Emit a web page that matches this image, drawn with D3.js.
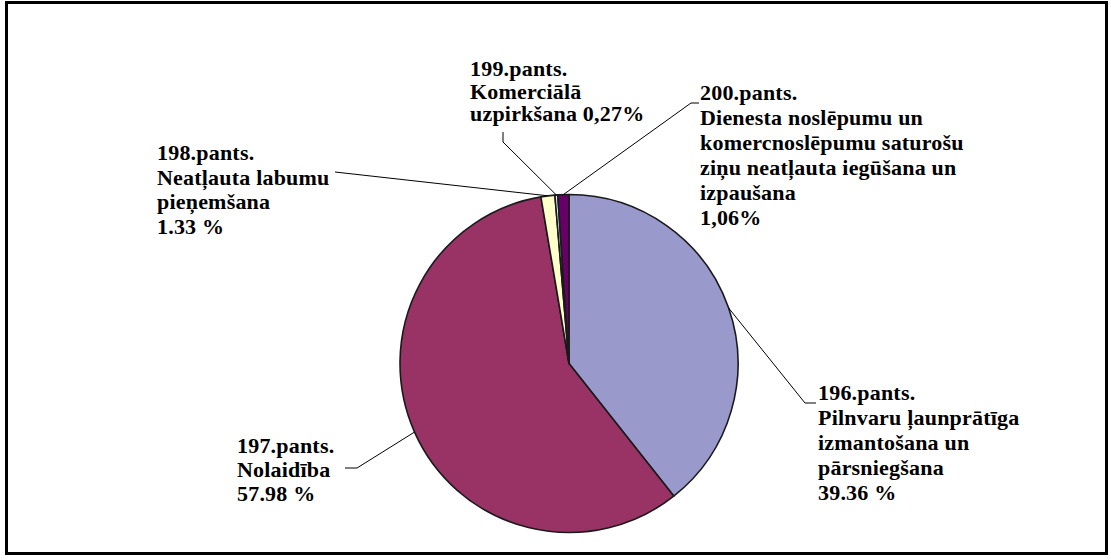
<!DOCTYPE html>
<html>
<head>
<meta charset="utf-8">
<script src="https://cdn.jsdelivr.net/npm/d3@7"></script>
<style>
html,body{margin:0;padding:0;background:#fff;}
svg{display:block;}
</style>
</head>
<body>
<svg id="chart" width="1111" height="560"></svg>
<script>
// ---- data ----
const categories = ["196.pants.", "197.pants.", "198.pants.", "199.pants.", "200.pants."];
const values = [39.36, 57.98, 1.33, 0.27, 1.06];
const labelLines = [
  ["196.pants.", "Pilnvaru ļaunprātīga", "izmantošana un", "pārsniegšana", "39.36 %"],
  ["197.pants.", "Nolaidība", "57.98 %"],
  ["198.pants.", "Neatļauta labumu", "pieņemšana", "1.33 %"],
  ["199.pants.", "Komerciālā", "uzpirkšana 0,27%"],
  ["200.pants.", "Dienesta noslēpumu un", "komercnoslēpumu saturošu", "ziņu neatļauta iegūšana un", "izpaušana", "1,06%"]
];
const colors = ["#9999CC", "#993366", "#FFFFCC", "#CCFFFF", "#660066"];

// ---- layout ----
const cx = 569, cy = 363.5, R = 169;
const labelLayout = [
  {x: 818, y: 400, lh: 25,   leader: [[805, 403], [816, 403]]},
  {x: 237, y: 453, lh: 24,   leader: [[357, 468], [345, 468]]},
  {x: 157, y: 160, lh: 24.7, leader: [[335, 172]]},
  {x: 470, y: 76,  lh: 22.6, leader: [[503, 142], [503, 132]]},
  {x: 700, y: 99.5, lh: 25,  leader: [[691, 103], [699, 103]]}
];

const svg = d3.select("#chart");

svg.append("rect")
  .attr("x", 6.5).attr("y", 2.5)
  .attr("width", 1100).attr("height", 551)
  .attr("fill", "#fff").attr("stroke", "#000").attr("stroke-width", 3);

const data = categories.map((c, i) => ({cat: c, value: values[i], i}));
const pie = d3.pie().sort(null).value(d => d.value).startAngle(0).endAngle(2 * Math.PI);
const arcs = pie(data);
const arc = d3.arc().innerRadius(0).outerRadius(R);

const g = svg.append("g").attr("transform", `translate(${cx},${cy})`);
g.selectAll("path.slice")
  .data(arcs)
  .join("path")
  .attr("class", "slice")
  .attr("d", arc)
  .attr("fill", d => colors[d.data.i])
  .attr("stroke", "#1a1a1a")
  .attr("stroke-width", 1.6)
  .attr("stroke-linejoin", "round");

const line = d3.line();
arcs.forEach(a => {
  const mid = (a.startAngle + a.endAngle) / 2;
  const px = cx + R * Math.sin(mid);
  const py = cy - R * Math.cos(mid);
  const pts = [[px, py]].concat(labelLayout[a.data.i].leader);
  svg.append("path")
    .attr("d", line(pts))
    .attr("fill", "none")
    .attr("stroke", "#000")
    .attr("stroke-width", 1);
});

labelLines.forEach((lines, i) => {
  const L = labelLayout[i];
  lines.forEach((s, k) => {
    svg.append("text")
      .attr("x", L.x).attr("y", L.y + k * L.lh)
      .style("font-family", "'Liberation Serif'")
      .style("font-weight", "bold")
      .style("font-size", "22px")
      .style("letter-spacing", "0.2px")
      .attr("fill", "#000")
      .text(s);
  });
});
</script>
</body>
</html>
